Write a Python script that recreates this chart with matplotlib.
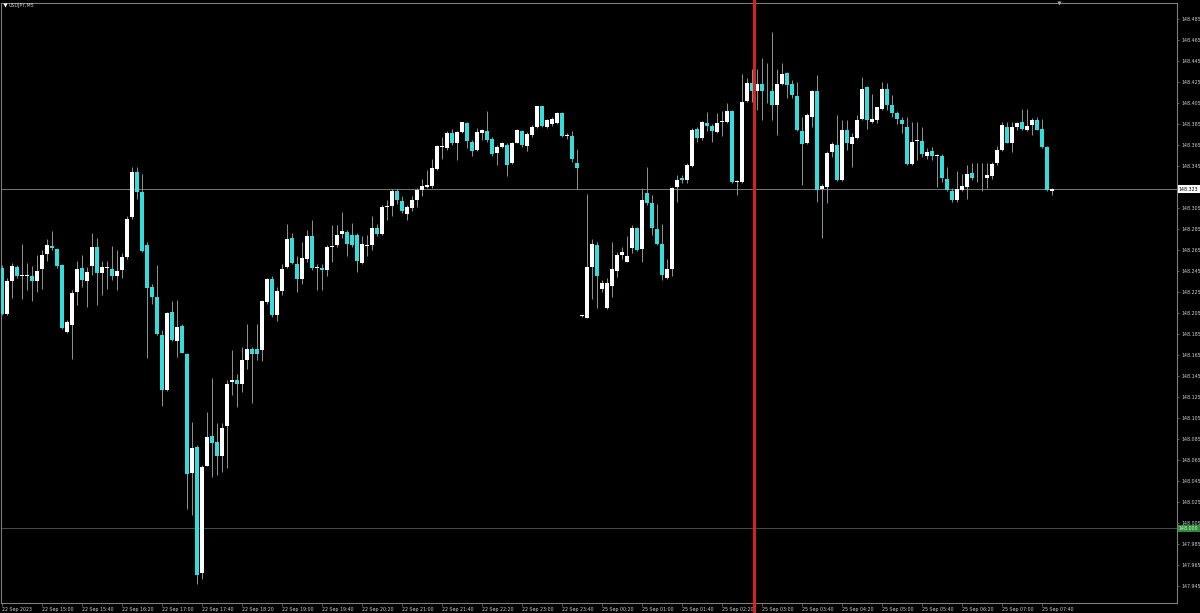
import numpy as np
import matplotlib
matplotlib.use("Agg")
import matplotlib.pyplot as plt
from matplotlib.lines import Line2D
import matplotlib.transforms as mtransforms

# USDJPY M5 bars, 22 Sep 2023 14:20 -> 25 Sep 2023 07:50
opens = [
    148.248, 148.204, 148.235, 148.249, 148.240, 148.240, 148.240, 148.235, 148.247, 148.261,
    148.269, 148.266, 148.251, 148.187, 148.194, 148.225, 148.248, 148.235, 148.250, 148.268,
    148.243, 148.248, 148.247, 148.240, 148.246, 148.258, 148.296, 148.339, 148.320, 148.270,
    148.230, 148.220, 148.184, 148.132, 148.206, 148.178, 148.193, 148.166, 148.053, 148.077,
    147.957, 148.059, 148.088, 148.082, 148.069, 148.097, 148.139, 148.141, 148.137, 148.160,
    148.171, 148.171, 148.170, 148.215, 148.237, 148.203, 148.226, 148.249, 148.276, 148.252,
    148.237, 148.256, 148.278, 148.248, 148.248, 148.246, 148.268, 148.270, 148.280, 148.282,
    148.279, 148.279, 148.253, 148.269, 148.270, 148.286, 148.280, 148.306, 148.307, 148.321,
    148.312, 148.299, 148.305, 148.313, 148.322, 148.325, 148.326, 148.342, 148.363, 148.362,
    148.376, 148.367, 148.377, 148.386, 148.368, 148.360, 148.376, 148.378, 148.371, 148.357,
    148.363, 148.365, 148.348, 148.367, 148.378, 148.364, 148.375, 148.382, 148.402, 148.382,
    148.385, 148.386, 148.395, 148.374, 148.374, 148.348, 148.202, 148.200, 148.249, 148.270,
    148.228, 148.210, 148.231, 148.245, 148.260, 148.254, 148.267, 148.286, 148.266, 148.319,
    148.310, 148.285, 148.271, 148.238, 148.247, 148.325, 148.334, 148.332, 148.345, 148.380,
    148.372, 148.386, 148.383, 148.377, 148.387, 148.387, 148.397, 148.330, 148.330, 148.407,
    148.424, 148.416, 148.423, 148.416, 148.416, 148.403, 148.423, 148.434, 148.423, 148.412,
    148.378, 148.367, 148.392, 148.416, 148.323, 148.325, 148.358, 148.365, 148.332, 148.379,
    148.366, 148.372, 148.390, 148.420, 148.387, 148.389, 148.399, 148.418, 148.403, 148.395,
    148.389, 148.382, 148.347, 148.369, 148.369, 148.355, 148.359, 148.355, 148.355, 148.333,
    148.321, 148.313, 148.322, 148.325, 148.338, 148.335, 148.335, 148.334, 148.335, 148.348,
    148.360, 148.382, 148.367, 148.382, 148.387, 148.379, 148.384, 148.389, 148.380, 148.363,
    148.321,
]
highs = [
    148.251, 148.238, 148.253, 148.251, 148.271, 148.253, 148.250, 148.260, 148.265, 148.275,
    148.283, 148.267, 148.252, 148.198, 148.227, 148.255, 148.260, 148.249, 148.281, 148.276,
    148.255, 148.255, 148.269, 148.265, 148.262, 148.297, 148.344, 148.344, 148.337, 148.273,
    148.233, 148.251, 148.189, 148.206, 148.216, 148.217, 148.195, 148.167, 148.101, 148.079,
    148.060, 148.111, 148.143, 148.100, 148.100, 148.141, 148.170, 148.147, 148.173, 148.195,
    148.173, 148.195, 148.217, 148.238, 148.240, 148.230, 148.252, 148.290, 148.281, 148.259,
    148.273, 148.284, 148.294, 148.252, 148.252, 148.270, 148.289, 148.289, 148.301, 148.284,
    148.291, 148.281, 148.278, 148.279, 148.297, 148.290, 148.308, 148.313, 148.323, 148.323,
    148.316, 148.308, 148.316, 148.324, 148.333, 148.341, 148.352, 148.365, 148.373, 148.378,
    148.380, 148.378, 148.387, 148.387, 148.370, 148.381, 148.380, 148.397, 148.373, 148.365,
    148.368, 148.367, 148.368, 148.380, 148.379, 148.377, 148.384, 148.402, 148.402, 148.390,
    148.392, 148.396, 148.396, 148.376, 148.378, 148.361, 148.203, 148.318, 148.275, 148.273,
    148.236, 148.238, 148.273, 148.263, 148.268, 148.278, 148.289, 148.287, 148.324, 148.344,
    148.317, 148.309, 148.290, 148.256, 148.325, 148.336, 148.336, 148.348, 148.381, 148.382,
    148.388, 148.396, 148.385, 148.395, 148.397, 148.405, 148.398, 148.332, 148.433, 148.429,
    148.437, 148.437, 148.448, 148.443, 148.473, 148.437, 148.443, 148.435, 148.427, 148.425,
    148.392, 148.395, 148.417, 148.432, 148.328, 148.359, 148.368, 148.394, 148.389, 148.389,
    148.376, 148.394, 148.430, 148.421, 148.414, 148.401, 148.425, 148.424, 148.413, 148.397,
    148.392, 148.392, 148.387, 148.387, 148.382, 148.362, 148.363, 148.356, 148.356, 148.344,
    148.324, 148.340, 148.337, 148.346, 148.348, 148.348, 148.348, 148.348, 148.349, 148.364,
    148.387, 148.387, 148.387, 148.387, 148.399, 148.399, 148.391, 148.392, 148.390, 148.364,
    148.324,
]
lows = [
    148.203, 148.203, 148.219, 148.238, 148.218, 148.227, 148.216, 148.225, 148.228, 148.255,
    148.265, 148.248, 148.190, 148.186, 148.161, 148.213, 148.230, 148.211, 148.241, 148.213,
    148.222, 148.228, 148.236, 148.227, 148.238, 148.256, 148.295, 148.314, 148.263, 148.162,
    148.214, 148.184, 148.116, 148.131, 148.178, 148.163, 148.167, 148.018, 148.013, 147.947,
    147.952, 148.059, 148.049, 148.051, 148.054, 148.057, 148.127, 148.115, 148.130, 148.152,
    148.119, 148.160, 148.159, 148.214, 148.201, 148.197, 148.222, 148.248, 148.252, 148.225,
    148.233, 148.254, 148.246, 148.227, 148.227, 148.240, 148.254, 148.268, 148.276, 148.259,
    148.268, 148.244, 148.252, 148.259, 148.265, 148.278, 148.279, 148.294, 148.297, 148.309,
    148.300, 148.294, 148.302, 148.306, 148.316, 148.324, 148.324, 148.341, 148.352, 148.360,
    148.365, 148.351, 148.376, 148.362, 148.355, 148.359, 148.370, 148.368, 148.355, 148.346,
    148.362, 148.335, 148.347, 148.367, 148.363, 148.359, 148.373, 148.381, 148.382, 148.381,
    148.383, 148.385, 148.373, 148.371, 148.349, 148.323, 148.201, 148.200, 148.218, 148.210,
    148.225, 148.209, 148.220, 148.239, 148.256, 148.254, 148.262, 148.264, 148.254, 148.308,
    148.279, 148.270, 148.236, 148.237, 148.240, 148.311, 148.329, 148.329, 148.344, 148.368,
    148.370, 148.378, 148.368, 148.376, 148.374, 148.386, 148.329, 148.317, 148.329, 148.406,
    148.406, 148.398, 148.389, 148.405, 148.389, 148.375, 148.422, 148.410, 148.410, 148.378,
    148.327, 148.366, 148.382, 148.311, 148.276, 148.310, 148.354, 148.331, 148.331, 148.360,
    148.344, 148.371, 148.389, 148.380, 148.386, 148.386, 148.398, 148.398, 148.392, 148.385,
    148.376, 148.346, 148.346, 148.351, 148.354, 148.352, 148.351, 148.325, 148.330, 148.321,
    148.311, 148.311, 148.321, 148.314, 148.332, 148.330, 148.321, 148.324, 148.333, 148.346,
    148.359, 148.367, 148.358, 148.379, 148.379, 148.378, 148.375, 148.379, 148.362, 148.321,
    148.317,
]
closes = [
    148.204, 148.235, 148.250, 148.240, 148.240, 148.241, 148.235, 148.245, 148.260, 148.270,
    148.267, 148.250, 148.191, 148.196, 148.224, 148.247, 148.236, 148.244, 148.268, 148.243,
    148.249, 148.248, 148.240, 148.245, 148.258, 148.295, 148.339, 148.320, 148.264, 148.229,
    148.220, 148.185, 148.132, 148.205, 148.179, 148.192, 148.167, 148.052, 148.076, 147.955,
    148.058, 148.087, 148.081, 148.069, 148.095, 148.137, 148.141, 148.137, 148.160, 148.171,
    148.166, 148.166, 148.216, 148.237, 148.203, 148.226, 148.247, 148.275, 148.253, 148.237,
    148.257, 148.278, 148.248, 148.248, 148.246, 148.268, 148.269, 148.279, 148.283, 148.271,
    148.270, 148.255, 148.271, 148.270, 148.286, 148.280, 148.306, 148.307, 148.321, 148.313,
    148.302, 148.306, 148.313, 148.322, 148.326, 148.327, 148.343, 148.364, 148.363, 148.376,
    148.367, 148.377, 148.387, 148.369, 148.359, 148.377, 148.379, 148.370, 148.356, 148.363,
    148.367, 148.346, 148.367, 148.379, 148.365, 148.375, 148.382, 148.402, 148.383, 148.389,
    148.390, 148.395, 148.374, 148.374, 148.352, 148.343, 148.202, 148.249, 148.271, 148.240,
    148.234, 148.234, 148.247, 148.260, 148.263, 148.259, 148.286, 148.265, 148.313, 148.310,
    148.286, 148.271, 148.241, 148.247, 148.324, 148.332, 148.332, 148.346, 148.379, 148.372,
    148.387, 148.383, 148.378, 148.386, 148.387, 148.397, 148.330, 148.330, 148.406, 148.424,
    148.416, 148.423, 148.416, 148.416, 148.403, 148.423, 148.433, 148.422, 148.413, 148.379,
    148.366, 148.394, 148.416, 148.322, 148.326, 148.357, 148.366, 148.332, 148.379, 148.367,
    148.373, 148.389, 148.418, 148.389, 148.390, 148.401, 148.418, 148.403, 148.395, 148.390,
    148.385, 148.347, 148.368, 148.369, 148.356, 148.358, 148.355, 148.355, 148.334, 148.322,
    148.313, 148.323, 148.326, 148.337, 148.334, 148.335, 148.335, 148.336, 148.347, 148.360,
    148.384, 148.367, 148.382, 148.386, 148.380, 148.383, 148.389, 148.379, 148.363, 148.322,
    148.323,
]

time_labels = [
    "22 Sep 2023", "22 Sep 15:00", "22 Sep 15:40", "22 Sep 16:20", "22 Sep 17:00",
    "22 Sep 17:40", "22 Sep 18:20", "22 Sep 19:00", "22 Sep 19:40", "22 Sep 20:20",
    "22 Sep 21:00", "22 Sep 21:40", "22 Sep 22:20", "22 Sep 23:00", "22 Sep 23:40",
    "25 Sep 00:20", "25 Sep 01:00", "25 Sep 01:40", "25 Sep 02:20", "25 Sep 03:00",
    "25 Sep 03:40", "25 Sep 04:20", "25 Sep 05:00", "25 Sep 05:40", "25 Sep 06:20",
    "25 Sep 07:00", "25 Sep 07:40",
]
label_step = 8          # one time label every 8 bars (40 minutes)
price_ticks = [148.485 - 0.02 * k for k in range(28)]
current_price = 148.323
level_price = 148.000
marker_bar = 150.4      # red vertical line position (bar index)

BG = "black"
BULL = "#ffffff"
BEAR = "#35dcdc"
WICK = "#8a9797"
FRAME = "#7f7f7f"
TXT = "#cfcfcf"
FS = 3.4

o = np.array(opens)
h = np.array(highs)
l = np.array(lows)
c = np.array(closes)
x = np.arange(len(o))

fig = plt.figure(figsize=(12, 6.13), dpi=100, facecolor=BG)
W, H = 1200, 613
ax = fig.add_axes([1 / W, (H - 603) / H, 1176 / W, 600 / H], facecolor=BG)

ax.set_xlim(-0.2, 235.0)
ax.set_ylim(148.465 - 563 / 1050, 148.465 + 37 / 1050)

# reference lines
ax.axhline(current_price, color="#8c8c8c", lw=0.6, zorder=1)
ax.axhline(level_price, color="#4c5f50", lw=0.6, zorder=1)

# candles
bull = c >= o
body_lo = np.minimum(o, c)
body_h = np.maximum(np.abs(c - o), 0.0009)
ax.vlines(x, l, h, colors=WICK, lw=0.7, zorder=2)
ax.bar(x[bull], body_h[bull], bottom=body_lo[bull], width=0.72,
       color=BULL, linewidth=0, zorder=3)
ax.bar(x[~bull], body_h[~bull], bottom=body_lo[~bull], width=0.72,
       color=BEAR, linewidth=0, zorder=3)

# frame
for s in ax.spines.values():
    s.set_color(FRAME)
    s.set_linewidth(0.8)

# price axis on the right (the label hidden under the price tag is left blank)
ax.yaxis.tick_right()
ax.set_yticks(price_ticks)
ax.set_yticklabels(["" if abs(p - current_price) < 0.005 else f"{p:.3f}"
                    for p in price_ticks])
ax.tick_params(axis="y", colors=FRAME, labelcolor=TXT, labelsize=FS,
               length=1.5, width=0.5, pad=1.5)

# time axis
ax.set_xticks(np.arange(len(time_labels)) * label_step)
ax.set_xticklabels(time_labels)
ax.tick_params(axis="x", colors=FRAME, labelcolor=TXT, labelsize=FS,
               length=2, width=0.5, pad=0.8)
for t in ax.get_xticklabels():
    t.set_horizontalalignment("left")

# price tags on the axis
trans = mtransforms.blended_transform_factory(ax.transAxes, ax.transData)
ax.text(1.0015, current_price, f"{current_price:.3f}", transform=trans,
        fontsize=FS, color="black", va="center", ha="left",
        bbox=dict(boxstyle="square,pad=0.25", fc="white", ec="none"))
ax.text(1.0015, level_price, f"{level_price:.3f}", transform=trans,
        fontsize=FS, color="#d8ffd8", va="center", ha="left",
        bbox=dict(boxstyle="square,pad=0.25", fc="#2f8a3c", ec="none"))

# symbol caption
fig.text(9 / W, 1 - 5 / H, "USDJPY,M5", color=TXT, fontsize=FS, va="center", ha="left")
fig.add_artist(Line2D([4.5 / W], [1 - 5 / H], marker="v", color="white",
                      markersize=3, markeredgewidth=0, linestyle="none"))
fig.add_artist(Line2D([1059 / W], [1 - 2.5 / H], marker="v", color="#a0a0a0",
                      markersize=3, markeredgewidth=0, linestyle="none"))

# red vertical line
xr = ax.transData.transform((marker_bar, 0))[0] / W
fig.add_artist(Line2D([xr, xr], [0, 1], transform=fig.transFigure,
                      color="#d42121", lw=2.2))

fig.savefig("out.png", dpi=100, facecolor=BG)
